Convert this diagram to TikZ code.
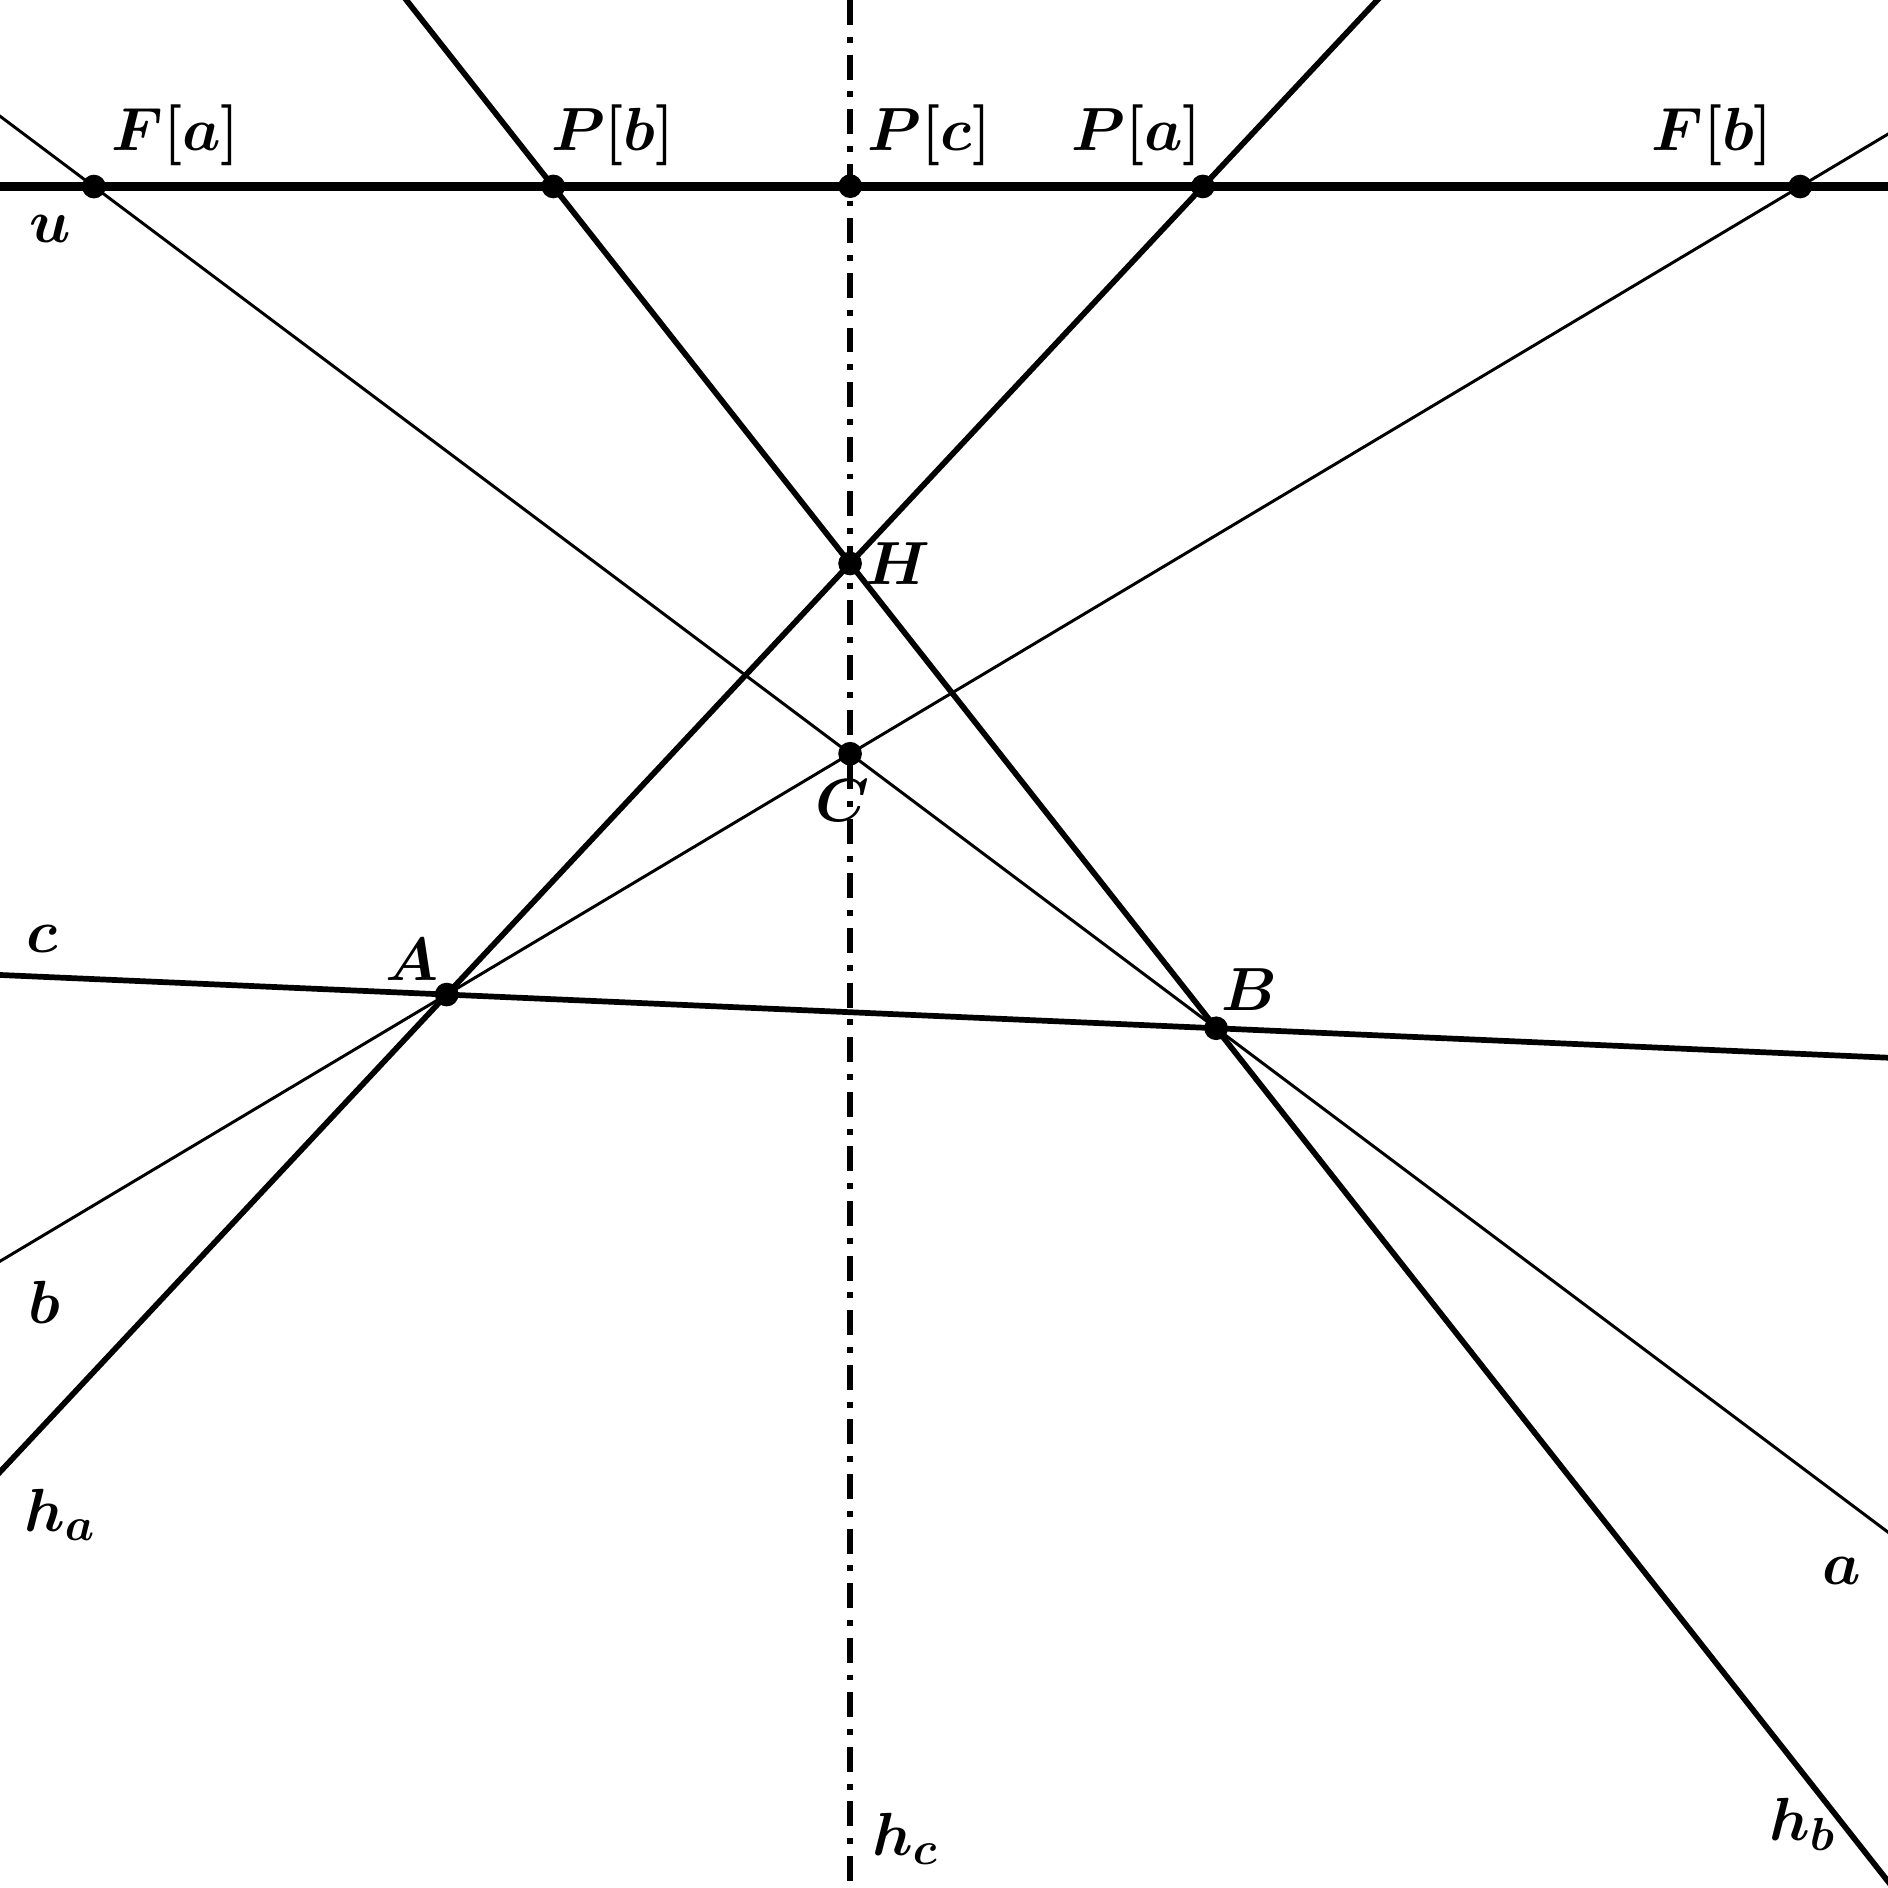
\documentclass[tikz,border=0pt]{standalone}
\usepackage{tikz}
\usetikzlibrary{calc}

\begin{document}
\begin{tikzpicture}[
    pt/.style={fill=black,circle,inner sep=0pt,minimum size=5.6pt},
    lbl/.style={inner sep=0pt,font=\fontsize{15.8}{19}\selectfont\boldmath},
    thinline/.style={line width=.7pt},
    thickline/.style={line width=1.35pt},
    axisline/.style={line width=2.1pt},
    heightline/.style={line width=1.5pt,dash pattern=on 5.9pt off 2.8pt on 1.4pt off 2.8pt}]

  %%%% Frame and base points %%%%
  \def\side{15.68}
  \def\uy{14.13}
  \useasboundingbox (0,0) rectangle (\side,\side);
  \coordinate (NW) at (0,\side);
  \coordinate (SW) at (0,0);
  \coordinate (uL) at (0,\uy);
  \coordinate (uR) at (\side,\uy);

  \coordinate (A) at (3.71,7.42);
  \coordinate (B) at (10.10,7.14);
  \coordinate (C) at (7.06,9.42);
  \coordinate (H) at (7.06,11.00);

  %% points on the line u
  \coordinate (Fa) at (intersection of B--C and uL--uR);
  \coordinate (Fb) at (intersection of A--C and uL--uR);
  \coordinate (Pa) at (intersection of A--H and uL--uR);
  \coordinate (Pb) at (intersection of B--H and uL--uR);
  \coordinate (Pc) at (intersection of C--H and uL--uR);

  %%%% Draw the lines, cut at the frame %%%%
  \begin{scope}
    \clip (0,0) rectangle (\side,\side);
    \draw[axisline] (uL) -- (uR);
    %% sides
    \draw[thinline] ($(B)!-4!(C)$) -- ($(B)!4!(C)$);
    \draw[thinline] ($(A)!-4!(C)$) -- ($(A)!4!(C)$);
    \draw[thickline] ($(A)!-3!(B)$) -- ($(A)!3!(B)$);
    %% heights
    \draw[thickline] ($(A)!-4!(H)$) -- ($(A)!4!(H)$);
    \draw[thickline] ($(B)!-4!(H)$) -- ($(B)!4!(H)$);
    \draw[heightline] (C |- NW) -- (C |- SW);
  \end{scope}

  %% Draw the dots
  \foreach \p in {Fa,Pb,Pc,Pa,Fb,H,C,A,B} {
    \node[pt] (dot\p) at (\p) {};
  }

  %% label points
  \node[lbl] (lblFa) at (1.46,14.56) {$F[a]$};
  \node[lbl] (lblPb) at (5.09,14.56) {$P[b]$};
  \node[lbl] (lblPc) at (7.72,14.56) {$P[c]$};
  \node[lbl] (lblPa) at (9.44,14.56) {$P[a]$};
  \node[lbl] (lblFb) at (14.22,14.56) {$F[b]$};
  \node[lbl] (lblH)  at (7.46,11.00) {$H$};
  \node[lbl] (lblC)  at (7.00,9.03)  {$C$};
  \node[lbl] (lblA)  at (3.42,7.71)  {$A$};
  \node[lbl] (lblB)  at (10.38,7.46) {$B$};
  %% label lines
  \node[lbl] (lblu)  at (0.42,13.78) {$u$};
  \node[lbl] (lblc)  at (0.35,7.88)  {$c$};
  \node[lbl] (lblb)  at (0.37,4.86)  {$b$};
  \node[lbl] (lblha) at (0.50,3.10)  {$h_a$};
  \node[lbl] (lbla)  at (15.30,2.63) {$a$};
  \node[lbl] (lblhc) at (7.52,0.41)  {$h_c$};
  \node[lbl] (lblhb) at (14.97,0.53) {$h_b$};

\end{tikzpicture}
\end{document}
